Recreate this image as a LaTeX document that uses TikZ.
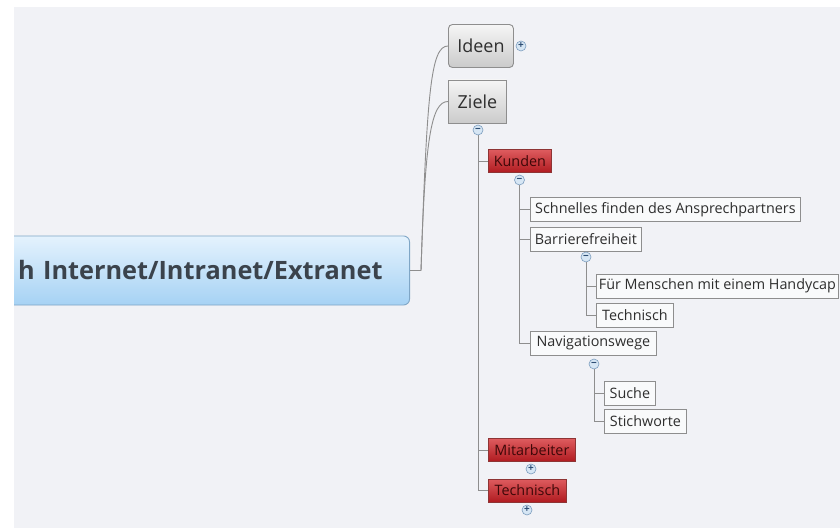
\documentclass[tikz,border=0pt]{standalone}
\usepackage{fontspec}
\setmainfont{Open Sans}
\usetikzlibrary{positioning}

\definecolor{bgcol}{HTML}{F1F2F6}
\definecolor{linegrey}{HTML}{8E8E8E}
\definecolor{textgrey}{HTML}{2E2E2E}
\definecolor{maintop}{HTML}{E4F2FD}
\definecolor{mainbot}{HTML}{A6D2F4}
\definecolor{mainline}{HTML}{7FA6C6}
\definecolor{maintext}{HTML}{3B434C}
\definecolor{greytop}{HTML}{F5F5F5}
\definecolor{greybot}{HTML}{CBCBCB}
\definecolor{redtop}{HTML}{DE5C5F}
\definecolor{redbot}{HTML}{B01B20}
\definecolor{redline}{HTML}{8E3434}
\definecolor{redtext}{HTML}{3E0808}
\definecolor{togfill}{HTML}{D6E6F4}
\definecolor{togline}{HTML}{7C9DBE}
\definecolor{togtext}{HTML}{2E4E74}

\tikzset{
  link/.style={draw=linegrey, line width=0.9bp},
  maintopic/.style={draw=mainline, line width=0.9bp, top color=maintop, bottom color=mainbot,
    rounded corners=6bp, text=maintext, font=\fontsize{25.4}{27}\selectfont\bfseries,
    minimum height=69bp, text width=392bp, align=right, inner xsep=27bp, anchor=east},
  topic/.style={draw=linegrey, line width=0.9bp, top color=greytop, bottom color=greybot,
    text=textgrey, font=\fontsize{18}{20}\selectfont, minimum height=43bp,
    inner sep=0pt, anchor=west},
  subtopic/.style={draw=linegrey, line width=0.8bp, fill=white!60!bgcol, text=textgrey,
    font=\fontsize{14.4}{16}\selectfont, minimum height=24bp, inner sep=0pt, anchor=west},
  redtopic/.style={subtopic, draw=redline, top color=redtop, bottom color=redbot,
    text=redtext, minimum height=23bp},
  toggle/.style={circle, draw=togline, line width=0.6bp, fill=togfill, text=togtext,
    minimum size=10bp, inner sep=0pt, font=\fontsize{10}{10}\selectfont\bfseries}
}

\begin{document}
\begin{tikzpicture}[x=1bp, y=-1bp]
\useasboundingbox (0,0) rectangle (840,528);
\fill[white] (0,0) rectangle (840,528);
\fill[bgcol] (14,7) rectangle (840,528);

\begin{scope}
\clip (14,7) rectangle (840,528);

% central topic, cut off on the left
\node[maintopic] (main) at (410,270.5) {h Internet/Intranet/Extranet};
\coordinate (fork) at (421,270.5);

% main branches
\node[topic, rounded corners=4bp, minimum width=65bp] (ideen) at (448,46) {Ideen};
\node[topic, minimum width=58bp] (ziele) at (448,101.5) {Ziele};

\draw[link] (main.east) -- (fork);
\draw[link] (fork) .. controls (427,90) and (431,46) .. (ideen.west);
\draw[link] (fork) .. controls (425,140) and (431,101.5) .. (ziele.west);

% Ziele
\node[redtopic, minimum width=63bp] (kunden) at (488,161) {Kunden};
\node[redtopic, minimum width=87bp] (mitarb) at (488,450) {Mitarbeiter};
\node[redtopic, minimum width=78bp] (technB) at (488,490.5) {Technisch};

% Kunden
\node[subtopic, minimum width=270bp] (schnell) at (530,209.5) {Schnelles finden des Ansprechpartners};
\node[subtopic, minimum width=111bp] (barriere) at (530,239) {Barrierefreiheit};
\node[subtopic, minimum width=126bp] (navi) at (530,343) {Navigationswege};

% Barrierefreiheit
\node[subtopic, minimum width=242bp] (menschen) at (596,286) {Für Menschen mit einem Handycap};
\node[subtopic, minimum width=77bp] (technA) at (596,315) {Technisch};

% Navigationswege
\node[subtopic, minimum width=51bp] (suche) at (604,393) {Suche};
\node[subtopic, minimum width=82bp] (stichw) at (604,421.5) {Stichworte};

% branch lines
\node[toggle] (zieletog) at (478,130) {\char"2212};
\node[toggle] (kundentog) at (519.5,180) {\char"2212};
\node[toggle] (barrtog) at (586,257) {\char"2212};
\node[toggle] (navitog) at (594,364) {\char"2212};

\foreach \c in {kunden,mitarb,technB}
  \draw[link] (zieletog.south) |- (\c.west);
\foreach \c in {schnell,barriere,navi}
  \draw[link] (kundentog.south) |- (\c.west);
\foreach \c in {menschen,technA}
  \draw[link] (barrtog.south) |- (\c.west);
\foreach \c in {suche,stichw}
  \draw[link] (navitog.south) |- (\c.west);

% collapsed branches
\node[toggle] (ideentog) at (521,46) {+};
\node[toggle] (mitarbtog) at (531,469) {+};
\node[toggle] (technBtog) at (527,510) {+};
\end{scope}

\end{tikzpicture}
\end{document}
